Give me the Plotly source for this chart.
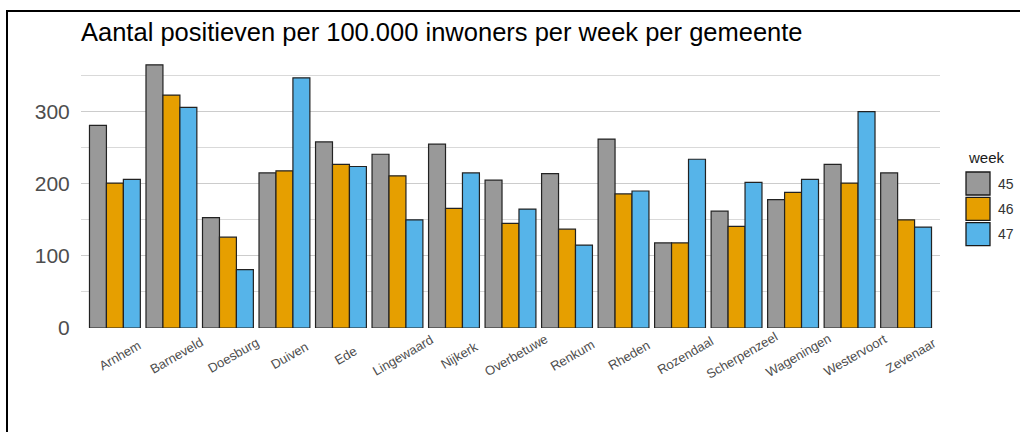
import plotly.graph_objects as go

gemeenten = ["Arnhem", "Barneveld", "Doesburg", "Duiven", "Ede", "Lingewaard", "Nijkerk",
             "Overbetuwe", "Renkum", "Rheden", "Rozendaal", "Scherpenzeel", "Wageningen",
             "Westervoort", "Zevenaar"]
week45 = [281, 365, 153, 215, 258, 241, 255, 205, 214, 262, 118, 162, 178, 227, 215]
week46 = [201, 323, 126, 218, 227, 211, 166, 145, 137, 186, 118, 141, 188, 201, 150]
week47 = [206, 306, 81, 347, 224, 150, 215, 165, 115, 190, 234, 202, 206, 300, 140]
weeks = ["45", "46", "47"]
colors = ["#999999", "#E69F00", "#56B4E9"]

# plot area in pixels: x 81..940, y 54..328
PW, PH = 859, 274

fig = go.Figure()
for name, vals, col in zip(weeks, [week45, week46, week47], colors):
    fig.add_trace(go.Bar(x=gemeenten, y=vals, name=name, showlegend=False,
                         marker=dict(color=col, line=dict(color="#222222", width=1.2))))

fig.update_layout(
    width=1020, height=432,
    barmode="group", bargap=0.1, bargroupgap=0,
    plot_bgcolor="white", paper_bgcolor="white",
    margin=dict(l=81, r=80, t=54, b=104),
    font=dict(family="Liberation Sans, Arial, sans-serif", color="#4d4d4d"),
    title=dict(text="Aantal positieven per 100.000 inwoners per week per gemeente",
               x=81 / 1020, xanchor="left", xref="container",
               y=1 - 32 / 432, yanchor="middle",
               font=dict(size=25.5, color="black")),
)
fig.update_xaxes(range=[-0.6, len(gemeenten) - 0.4], showticklabels=False,
                 showgrid=False, showline=False, ticks="")
fig.update_yaxes(range=[0, 380], tickvals=[0, 100, 200, 300], tickfont=dict(size=21),
                 showgrid=True, gridcolor="#cccccc", gridwidth=1, zeroline=False,
                 minor=dict(tickvals=[50, 150, 250, 350], showgrid=True,
                            gridcolor="#d9d9d9", gridwidth=1),
                 ticks="outside", ticklen=6, tickcolor="white")

# rotated category labels, centred under each group
for g in gemeenten:
    fig.add_annotation(x=g, y=0, xref="x", yref="y", text=g, showarrow=False,
                       textangle=-30, xanchor="center", yanchor="middle",
                       xshift=5, yshift=-27, font=dict(size=13, color="#4d4d4d"))

# legend drawn by hand to get the large keys
lx0, lx1 = (966 - 81) / PW, (990 - 81) / PW
fig.add_annotation(x=lx0, y=(328 - 157) / PH, xref="paper", yref="paper", text="week",
                   showarrow=False, xanchor="left", yanchor="middle",
                   font=dict(size=15, color="#1a1a1a"))
for i, (name, col) in enumerate(zip(weeks, colors)):
    top = 172 + i * 25.3
    fig.add_shape(type="rect", xref="paper", yref="paper",
                  x0=lx0, x1=lx1, y0=(328 - top - 23) / PH, y1=(328 - top) / PH,
                  fillcolor=col, line=dict(color="#1a1a1a", width=1.3))
    fig.add_annotation(x=(996 - 81) / PW, y=(328 - top - 11.5) / PH, xref="paper",
                       yref="paper", text=name, showarrow=False, xanchor="left",
                       yanchor="middle", font=dict(size=14, color="#333333"))

# outer frame of the original screenshot
fig.add_shape(type="rect", xref="paper", yref="paper",
              x0=(7 - 81) / PW, x1=1.2, y0=-0.5, y1=(328 - 11) / PH,
              line=dict(color="black", width=2), fillcolor="rgba(0,0,0,0)", layer="above")

fig.write_html("out.html", config={"displayModeBar": False},
               post_script="document.body.style.margin='0';")
